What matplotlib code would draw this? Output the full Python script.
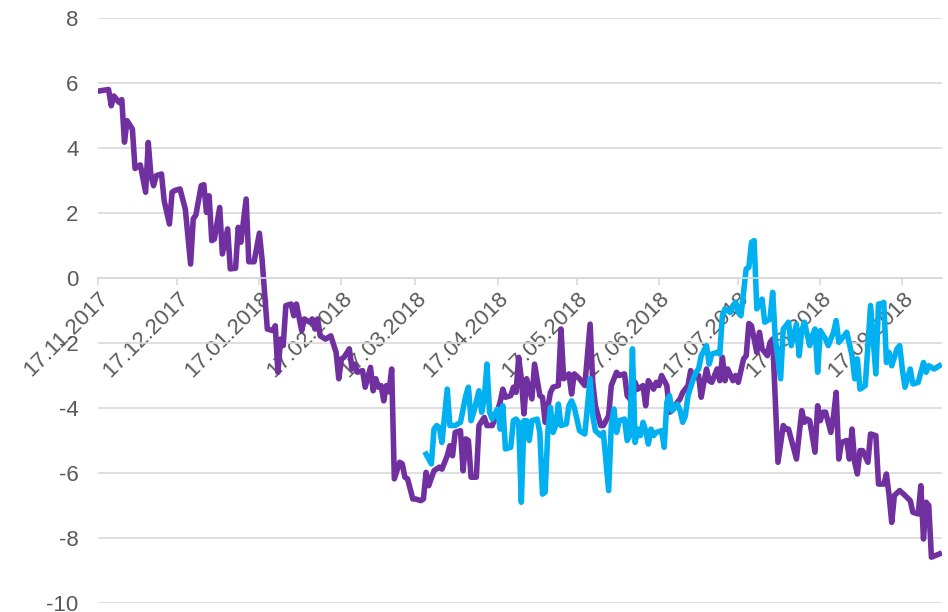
import pandas as pd
import matplotlib
matplotlib.use("Agg")
import matplotlib.pyplot as plt
import matplotlib.dates as mdates

plt.rcParams['font.family'] = ['Liberation Sans', 'DejaVu Sans']
plt.rcParams['axes.unicode_minus'] = False

# start of the series
start = pd.Timestamp('2017-11-17')
x_end_day = 319

# purple series: day offset from start, value
purple_day = [0, 4, 5, 6, 8, 9, 10, 11, 13, 14, 16, 18, 19, 20, 21, 22, 24, 25, 27, 28,
              29, 31, 33, 35, 36, 37, 39, 40, 41, 42, 43, 44, 46, 47, 49, 50, 52, 53, 54, 56,
              57, 59, 61, 62, 64, 66, 67, 68, 69, 70, 71, 73, 74, 75, 77, 78, 80, 81, 82, 83,
              84, 86, 88, 90, 91, 92, 93, 95, 96, 97, 98, 100, 101, 103, 104, 105, 106, 107, 108, 109,
              110, 111, 112, 114, 115, 116, 117, 119, 120, 122, 123, 124, 125, 127, 129, 130, 132, 133, 134, 135,
              137, 138, 139, 140, 141, 143, 144, 146, 147, 149, 150, 152, 153, 154, 156, 157, 158, 159, 160, 161,
              162, 164, 165, 167, 168, 169, 171, 172, 174, 175, 176, 178, 179, 180, 182, 184, 186, 187, 188, 190,
              191, 193, 194, 196, 197, 199, 200, 202, 203, 204, 206, 207, 208, 210, 211, 212, 213, 215, 216, 217,
              219, 220, 221, 223, 224, 225, 227, 228, 229, 230, 231, 232, 234, 235, 236, 237, 238, 240, 241, 242,
              244, 245, 246, 247, 249, 250, 251, 253, 254, 255, 257, 259, 260, 261, 264, 266, 267, 268, 269, 271,
              272, 273, 274, 275, 277, 278, 279, 280, 281, 283, 284, 285, 286, 287, 288, 289, 291, 292, 294, 295,
              297, 298, 299, 300, 301, 303, 305, 307, 308, 310, 311, 312, 313, 314, 315, 318]
purple_val = [5.75, 5.8, 5.3, 5.6, 5.4, 5.49, 4.18, 4.84, 4.58, 3.37, 3.48, 2.64, 4.17, 3.15, 2.84, 3.15, 3.2, 2.38, 1.66, 2.64,
              2.69, 2.74, 2.12, 0.43, 1.82, 1.94, 2.84, 2.87, 2.02, 2.53, 1.15, 1.2, 2.17, 0.74, 1.51, 0.28, 0.3, 1.56, 1.1, 2.43,
              0.5, 0.5, 1.38, 0.58, -1.57, -1.62, -1.47, -2.9, -1.88, -2.08, -0.85, -0.8, -1.16, -0.8, -1.62, -1.26, -1.36, -1.26, -1.57, -1.26,
              -1.78, -1.88, -1.78, -2.29, -3.1, -2.49, -2.44, -2.18, -2.8, -2.65, -2.9, -2.85, -3.36, -2.75, -3.47, -3.1, -3.36, -3.31, -3.78, -3.31,
              -3.5, -2.8, -6.18, -5.67, -5.72, -6.13, -6.18, -6.8, -6.8, -6.85, -6.8, -5.98, -6.39, -5.93, -5.82, -5.88, -5.47, -5.16, -5.47, -4.75,
              -4.7, -5.93, -4.95, -5.0, -6.13, -6.13, -4.54, -4.29, -4.54, -4.54, -4.34, -3.82, -3.42, -3.67, -3.62, -3.36, -3.52, -2.44, -3.1, -4.18,
              -3.1, -3.72, -2.65, -3.62, -3.67, -4.44, -3.52, -3.36, -3.31, -1.57, -3.1, -2.95, -3.57, -2.95, -3.1, -3.31, -1.42, -3.21, -3.93, -4.54,
              -4.54, -4.24, -3.31, -2.9, -3.0, -2.95, -3.62, -3.82, -3.21, -3.42, -3.31, -3.93, -3.16, -3.42, -3.21, -3.31, -3.0, -3.31, -4.13, -4.08,
              -3.82, -3.72, -3.52, -3.31, -2.85, -3.1, -3.0, -3.67, -3.21, -2.8, -3.16, -3.21, -2.8, -3.16, -2.44, -3.16, -2.8, -3.16, -3.0, -3.21,
              -2.49, -2.39, -1.4, -1.47, -2.29, -1.67, -2.18, -2.39, -1.98, -1.88, -5.67, -4.54, -4.65, -4.65, -5.57, -4.08, -4.44, -4.34, -4.39, -5.36,
              -3.93, -4.39, -4.13, -4.13, -4.75, -4.24, -3.52, -5.57, -5.06, -5.0, -5.57, -4.65, -5.67, -6.03, -5.31, -5.31, -5.67, -4.8, -4.85, -6.34,
              -6.34, -6.03, -6.69, -7.52, -6.69, -6.54, -6.69, -6.85, -7.21, -7.26, -6.39, -8.03, -6.9, -7.0, -8.59, -8.49]

# blue series
blue_day = [124, 126, 127, 128, 129, 130, 132, 133, 135, 137, 139, 140, 141, 142, 144, 145, 146, 147, 148, 149,
            150, 151, 152, 153, 154, 156, 157, 158, 159, 160, 161, 162, 163, 164, 166, 167, 168, 169, 170, 171,
            172, 173, 174, 175, 177, 178, 179, 180, 182, 184, 186, 187, 188, 190, 191, 193, 194, 195, 196, 197,
            199, 200, 201, 202, 203, 204, 205, 206, 207, 208, 209, 210, 211, 213, 214, 215, 216, 217, 219, 220,
            221, 222, 223, 225, 226, 227, 228, 230, 231, 232, 234, 235, 236, 237, 239, 240, 241, 242, 243, 245,
            246, 247, 248, 249, 251, 252, 254, 255, 256, 258, 259, 260, 261, 262, 264, 265, 266, 267, 269, 270,
            271, 272, 273, 275, 276, 278, 279, 280, 282, 283, 285, 286, 287, 288, 290, 291, 292, 294, 295, 296,
            297, 298, 299, 300, 302, 303, 304, 305, 307, 308, 310, 311, 312, 313, 314, 316, 318]
blue_val = [-5.42, -5.72, -4.65, -4.54, -4.6, -5.06, -3.42, -4.54, -4.54, -4.44, -3.62, -3.36, -4.39, -4.13, -3.47, -4.13, -3.72, -2.65, -4.13, -4.34,
            -4.18, -4.03, -4.65, -3.93, -5.26, -5.21, -4.39, -4.34, -4.44, -6.9, -4.39, -4.39, -5.0, -4.39, -4.34, -4.75, -6.65, -6.59, -4.75, -3.98,
            -4.75, -4.54, -3.88, -4.54, -4.49, -3.93, -3.78, -3.98, -4.7, -4.8, -3.1, -4.24, -4.7, -4.85, -4.75, -6.54, -4.54, -4.03, -4.75, -4.39,
            -4.34, -5.0, -4.85, -2.18, -5.06, -4.65, -4.85, -4.44, -4.7, -5.11, -4.65, -4.85, -4.75, -4.7, -5.21, -3.82, -3.62, -4.08, -3.88, -4.08,
            -4.44, -4.24, -3.62, -3.1, -2.9, -2.8, -2.39, -2.08, -2.65, -2.34, -2.29, -2.34, -1.16, -0.95, -1.06, -0.85, -0.75, -1.06, -1.16, 0.28,
            0.33, 1.1, 1.15, -0.95, -0.65, -1.36, -1.26, -0.44, -1.88, -3.1, -1.57, -1.47, -1.36, -2.08, -1.42, -2.39, -1.62, -1.36, -2.08, -1.78,
            -1.57, -2.9, -1.62, -1.88, -2.08, -1.67, -1.31, -1.98, -1.78, -1.67, -2.39, -3.1, -2.49, -3.42, -3.31, -2.08, -0.85, -2.95, -0.8, -0.8,
            -0.75, -2.6, -2.29, -2.7, -2.18, -2.08, -2.8, -3.36, -2.8, -3.26, -3.21, -2.9, -2.6, -2.9, -2.7, -2.8, -2.7]

y_ticks = list(range(-10, 9, 2))

purple_dates = start + pd.to_timedelta(purple_day, unit='D')
blue_dates = start + pd.to_timedelta(blue_day, unit='D')

fig = plt.figure(figsize=(9.48, 6.12), dpi=100)
ax = fig.add_axes([98 / 948, 1 - 603 / 612, (942 - 98) / 948, (603 - 18) / 612])

ax.plot(purple_dates, purple_val, color='#7030A0', linewidth=4, solid_joinstyle='round')
ax.plot(blue_dates, blue_val, color='#00B0F0', linewidth=4, solid_joinstyle='round')

ax.set_ylim(-10, 8)
ax.set_xlim(start, start + pd.Timedelta(days=x_end_day))
ax.set_yticks(y_ticks)
ax.yaxis.grid(True, color='#D9D9D9', linewidth=1.2)
ax.set_axisbelow(True)

ax.xaxis.set_major_locator(mdates.MonthLocator(bymonthday=17))
ax.xaxis.set_major_formatter(mdates.DateFormatter('%d.%m.%Y'))

for s in ['top', 'right', 'left']:
    ax.spines[s].set_visible(False)
ax.spines['bottom'].set_position(('data', 0))
ax.spines['bottom'].set_color('#D9D9D9')
ax.spines['bottom'].set_linewidth(1.2)

ax.tick_params(axis='y', length=0, pad=14, labelsize=16, labelcolor='#595959')
ax.tick_params(axis='x', length=5, width=1.2, color='#D9D9D9', pad=2,
               labelsize=16, labelcolor='#595959')
plt.setp(ax.get_xticklabels(), rotation=45, ha='right', va='top', rotation_mode='anchor')

fig.savefig('out.png', dpi=100)
